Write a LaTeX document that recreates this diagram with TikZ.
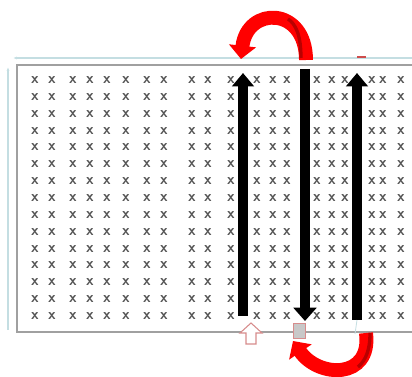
\documentclass[tikz,border=0pt]{standalone}
\usepackage{tikz}
\usetikzlibrary{arrows.meta}
\definecolor{RuleBlue}{RGB}{196,222,226}
\definecolor{FrameGray}{RGB}{160,160,160}
\definecolor{MarkGray}{RGB}{85,85,85}
\definecolor{TurnRed}{RGB}{255,0,0}
\definecolor{TurnDark}{RGB}{185,0,0}
\definecolor{TagPink}{RGB}{215,140,140}
\definecolor{TagFill}{RGB}{200,200,200}

\begin{document}
\begin{tikzpicture}[x=0.0265cm, y=-0.0265cm,
    gridx/.style={text=MarkGray, font=\sffamily\bfseries\fontsize{11.5}{11.5}\selectfont, inner sep=0pt},
    pass/.style={line width=7.5pt, -{Triangle[width=16pt,length=10pt]}},
    turn/.style={TurnRed, line width=10.5pt, -{Triangle[width=20pt,length=10pt]}}]
        \useasboundingbox (0,0) rectangle (412,377);
        \clip (0,0) rectangle (412,377);
        % rulers and board frame
        \draw[RuleBlue, line width=1.6pt, {Latex[length=3pt]}-] (13,58) -- (415,58);
        \draw[RuleBlue, line width=1.6pt, {Latex[length=3pt]}-] (8,67) -- (8,330);
        \draw[FrameGray, line width=1.3pt] (415,65) -| (17,332) -- (415,332);
        % holes
        \foreach \cx in {35,52,73,90,107,126,147,164,192,208,231,257,273,287,317,332,345,372,383,401}
          \foreach \r in {0,...,14}
            \node[gridx] (m-\cx-\r) at (\cx,80+16.86*\r) {x};
        % wire paths
        \coordinate (upA-bot) at (243,316);
        \coordinate (upA-top) at (243,73);
        \coordinate (dn-top) at (305,69);
        \coordinate (dn-bot) at (305,321);
        \coordinate (upB-bot) at (357,320);
        \coordinate (upB-top) at (357,73);
        \draw[pass] (upA-bot) -- (upA-top);
        \draw[line width=7.5pt, -{Triangle[width=17pt,length=10pt]}] (dn-top) -- (dn-bot);
        \draw[pass] (upB-bot) -- (upB-top);
        \draw[RuleBlue, line width=0.6pt] (upB-bot) -- (355,334);
        % pin tags
        \draw[TagPink, fill=white, line width=0.8pt] (251,323) -- (262,333) -- (256,333) -- (256,344)
          -- (246,344) -- (246,333) -- (240,333) -- cycle;
        \draw[TagPink, fill=TagFill, line width=0.6pt] (293,323) rectangle (305,338);
        \draw[TurnDark!70, line width=1pt] (357,57) -- (366,57);
        % turns
        \coordinate (topR) at (306,60);
        \coordinate (topL) at (241,59);
        \coordinate (botR) at (366,333);
        \coordinate (botL) at (293,341);
        \draw[turn] (topR) .. controls (306,6) and (247,6) .. (topL);
        \draw[TurnDark, line width=2.5pt] (301,58) .. controls (301,36) and (296,24) .. (288,19);
        \draw[turn] (botR) .. controls (372,380) and (318,378) .. (botL);
        \draw[TurnDark, line width=2.5pt] (370,333) .. controls (370,350) and (366,360) .. (358,367);
      \end{tikzpicture}
\end{document}
